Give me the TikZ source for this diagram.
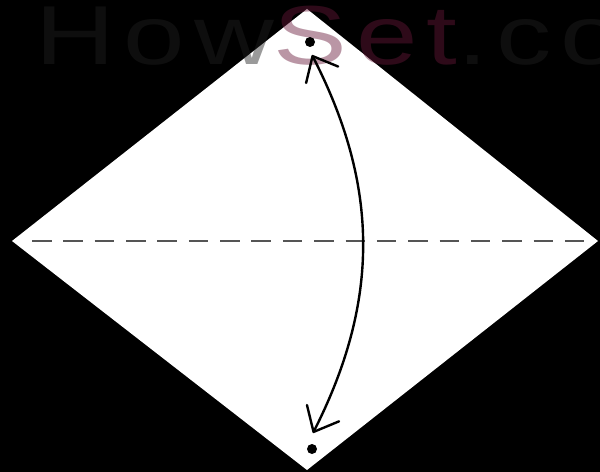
\documentclass[tikz,border=0pt]{standalone}
\usepackage{fontspec}
\setsansfont{Liberation Sans}
\usepackage{xcolor}
\usetikzlibrary{arrows.meta}
\definecolor{fdBack}{RGB}{0,0,0}
\definecolor{fdPaper}{RGB}{255,255,255}
\definecolor{fdFold}{RGB}{85,85,85}
\definecolor{fdMark}{RGB}{32,32,32}
\definecolor{fdSet}{RGB}{102,23,56}

\begin{document}
\begin{tikzpicture}[
  x=1bp, y=-1bp,
  dot/.style={circle, fill=black, inner sep=0pt, minimum size=10bp},
  fold/.style={draw=fdFold, line width=2.4bp, dash pattern=on 19.5bp off 11.85bp},
  ar/.style={{Straight Barb[length=21bp,width=36bp,round]}-{Straight Barb[length=21bp,width=36bp,round]}, line width=2.4bp, line cap=round},
  wmark/.style={anchor=base west, inner sep=0pt, xscale=1.32, text opacity=0.45, font=\sffamily\fontsize{84}{84}\selectfont\addfontfeatures{LetterSpace=8}}
]
\fill[fdBack] (0,0) rectangle (600,472);
\clip (0,0) rectangle (600,472);

% paper square, turned on its corner
\coordinate (T) at (307,9);
\coordinate (R) at (598,241);
\coordinate (B) at (307,470);
\coordinate (L) at (12,241);
\fill[fdPaper] (T) -- (R) -- (B) -- (L) -- cycle;

% valley fold
\draw[fold, shorten <=20bp, shorten >=13bp] (L) -- (R);

% watermark
\node[wmark] (wm) at (35,65) {\color{fdMark}How\color{fdSet}Set\color{fdMark}.co};

% corner marks and fold arrow
\node[dot] (dT) at (310,42) {};
\node[dot] (dB) at (312,449) {};
\coordinate (tipT) at (312,55);
\coordinate (tipB) at (313,433);
\draw[ar] (tipT) to[bend left=27] (tipB);
\end{tikzpicture}
\end{document}
